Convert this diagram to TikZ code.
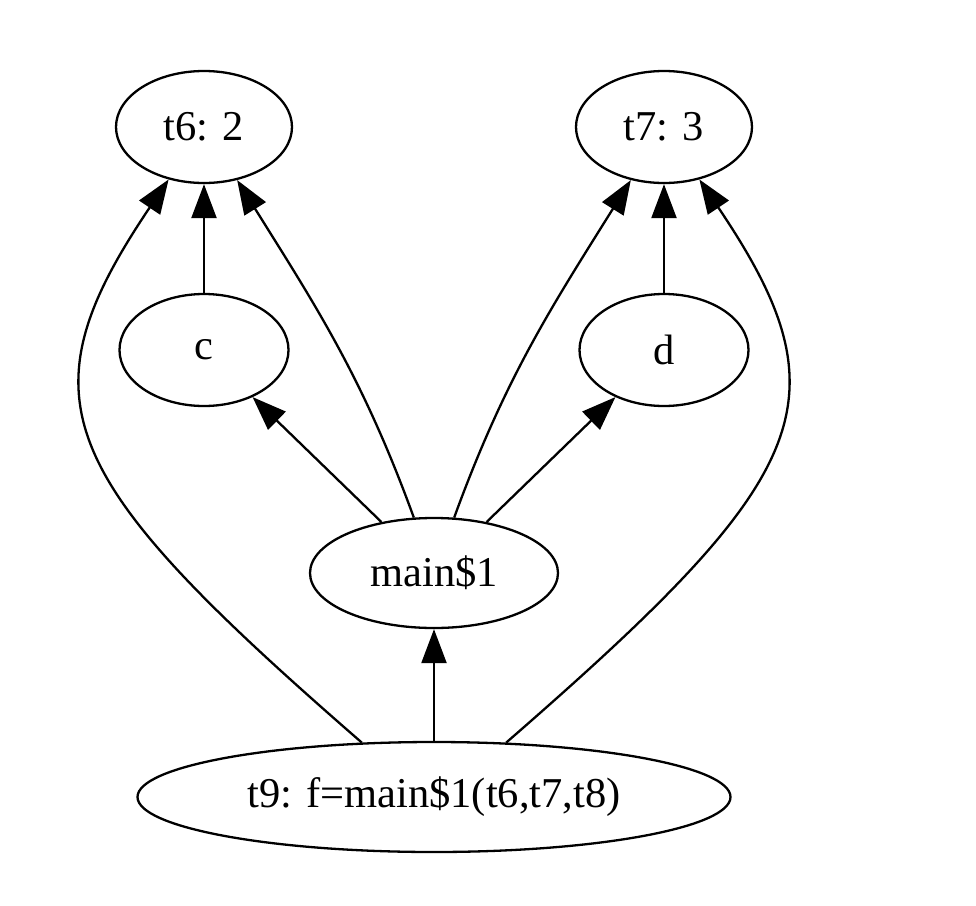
\documentclass[tikz,border=0pt]{standalone}
\usepackage{fontspec}
\setmainfont{Liberation Serif}
\usetikzlibrary{shapes.geometric,arrows.meta}

\tikzset{ every node/.style={draw, ellipse, line width=1.15pt, inner sep=0pt, minimum width=88pt, minimum height=56pt, font=\fontsize{21.25}{25}\selectfont},
          every edge/.style={draw, line width=1.15pt, -{Triangle[length=17pt,width=12.5pt]}} }

\begin{document}
\begin{tikzpicture}[x=0.5pt, y=-0.5pt]
        \useasboundingbox (0,0) rectangle (976,906);
        \node (t6) at (204,127) {t6: 2};
        \node (t7) at (664,127) {t7: 3};
        \node[minimum width=84.5pt] (c) at (204,350) {c};
        \node[minimum width=84.5pt] (d) at (664,350) {d};
        \node[minimum width=124pt, minimum height=55pt] (main) at (434,573) {main\$1};
        \node[minimum width=296.5pt, minimum height=55pt] (t9) at (434,797) {t9: f=main\$1(t6,t7,t8)};

        \path (c) edge (t6)
              (d) edge (t7)
              (main) edge (c)
              (main) edge (d)
              (main) edge[out=110, in=-58] (t6)
              (main) edge[out=70, in=-122] (t7)
              (t9) edge (main)
              (t9.143) edge[out=139, in=-124, out looseness=1.75, in looseness=1.15] (t6)
              (t9.37) edge[out=41, in=-56, out looseness=1.75, in looseness=1.15] (t7);
    \end{tikzpicture}
\end{document}
